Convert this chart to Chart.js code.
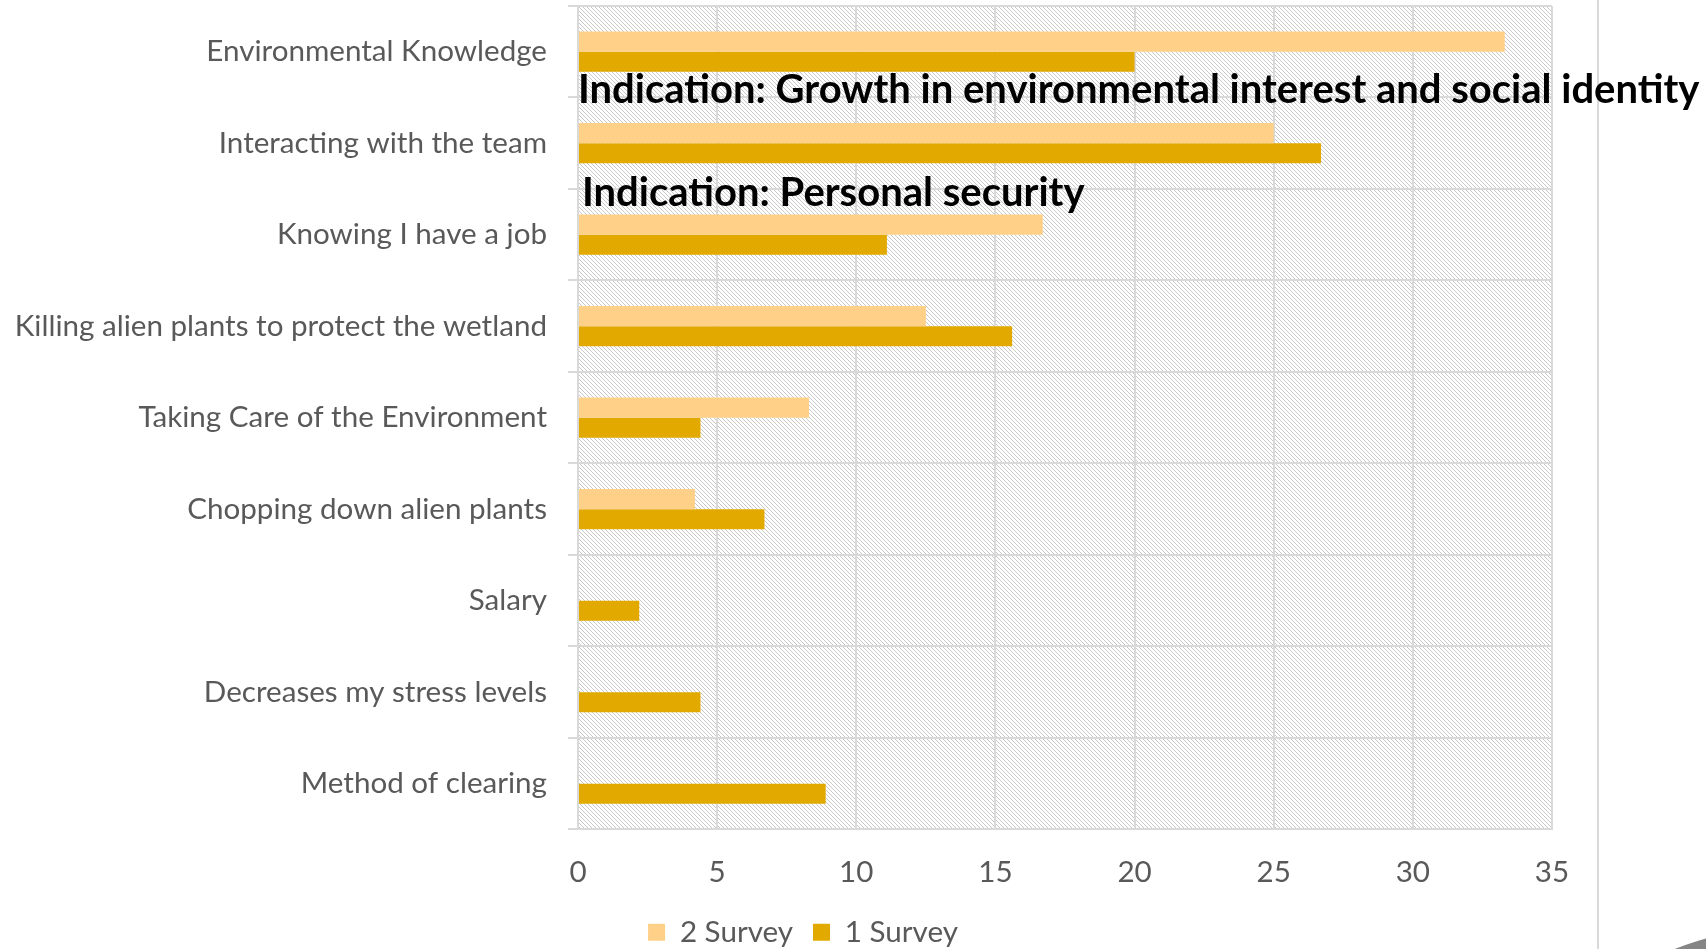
<!DOCTYPE html>
<html>
<head>
<meta charset="utf-8">
<title>Motivation by survey</title>
<script src="https://cdn.jsdelivr.net/npm/chart.js@4.4.1/dist/chart.umd.min.js"></script>
<style>
html,body{margin:0;padding:0;background:#fff;}
#wrap{position:relative;width:1706px;height:949px;overflow:hidden;}
</style>
</head>
<body>
<div id="wrap"><canvas id="surveyChart" width="1706" height="949"></canvas></div>
<script>
const categories = [
    "Environmental Knowledge",
    "Interacting with the team",
    "Knowing I have a job",
    "Killing alien plants to protect the wetland",
    "Taking Care of the Environment",
    "Chopping down alien plants",
    "Salary",
    "Decreases my stress levels",
    "Method of clearing"
];
const survey2 = [33.3, 25, 16.7, 12.5, 8.3, 4.2, 0, 0, 0];
const survey1 = [20, 26.7, 11.1, 15.6, 4.4, 6.7, 2.2, 4.4, 8.9];
const xTicks = [0, 5, 10, 15, 20, 25, 30, 35];
const notes = [
    "Indication: Growth in environmental interest and social identity",
    "Indication: Personal security"
];

const grey = "#595959";
const gridGrey = "#d9d9d9";
const frameX = 1598;

function hatchPattern(ctx){
    const c = document.createElement("canvas");
    c.width = c.height = 8;
    const g = c.getContext("2d");
    g.fillStyle = "#fff";
    g.fillRect(0, 0, 8, 8);
    g.fillStyle = "#c8c8c8";
    for(let i = 0; i < 8; i++){
        g.fillRect(i, i, 1, 1);
        g.fillRect((i + 4) % 8, i, 1, 1);
    }
    return ctx.createPattern(c, "repeat");
}

// hatched plot background, outer frame line, notes on top of the bars
const decor = {
    id: "decor",
    afterLayout(chart){
        // keep the legend centred inside the outer frame
        const lg = chart.legend;
        const dx = frameX / 2 + 4 - (lg.left + lg.right) / 2;
        lg.left += dx; lg.right += dx;
        lg.top -= 2; lg.bottom -= 2;
    },
    beforeDraw(chart){
        const {ctx, chartArea: a} = chart;
        ctx.save();
        ctx.fillStyle = hatchPattern(ctx);
        ctx.fillRect(a.left, a.top, a.right - a.left, a.bottom - a.top);
        ctx.restore();
    },
    afterDraw(chart){
        const {ctx, scales} = chart;
        ctx.save();
        ctx.strokeStyle = gridGrey;
        ctx.lineWidth = 2;
        ctx.beginPath();
        ctx.moveTo(frameX, 0);
        ctx.lineTo(frameX, chart.height);
        ctx.stroke();

        ctx.fillStyle = "#858585";
        ctx.beginPath();
        ctx.arc(1790, 1240, 313, 0, Math.PI * 2);
        ctx.fill();

        const x0 = scales.x.getPixelForValue(0);
        ctx.fillStyle = "#000";
        ctx.font = "bold 40px Lato";
        ctx.textBaseline = "alphabetic";
        ctx.textAlign = "left";
        ctx.fillText(notes[0], x0, scales.y.getPixelForValue(0.5) + 6);
        ctx.fillText(notes[1], x0 + 4, scales.y.getPixelForValue(1.5) + 17);
        ctx.restore();
    }
};

const font = {family: "Lato", size: 29.6};

new Chart(document.getElementById("surveyChart"), {
    type: "bar",
    data: {
        labels: categories,
        datasets: [
            {label: "2 Survey", data: survey2, backgroundColor: "#ffd087", borderWidth: 0},
            {label: "1 Survey", data: survey1, backgroundColor: "#e2aa00", borderWidth: 0}
        ]
    },
    options: {
        responsive: false,
        animation: false,
        indexAxis: "y",
        layout: {padding: {top: 6, right: 154, left: 0, bottom: -10}},
        datasets: {bar: {categoryPercentage: 0.44, barPercentage: 1}},
        plugins: {
            tooltip: {enabled: false},
            legend: {
                position: "bottom",
                labels: {color: grey, font: font, boxWidth: 17, boxHeight: 17, padding: 20}
            }
        },
        scales: {
            y: {
                grid: {color: gridGrey, lineWidth: 2, tickLength: 10, offset: true},
                border: {color: gridGrey, width: 2},
                ticks: {color: grey, font: font, padding: 21},
                afterFit(s){
                    s.width = 578;
                    s.paddingTop = 0;
                    s.paddingBottom = 0;
                }
            },
            x: {
                min: 0, max: 35,
                afterBuildTicks(s){ s.ticks = xTicks.map(v => ({value: v})); },
                grid: {color: gridGrey, lineWidth: 2, drawTicks: false},
                border: {color: gridGrey, width: 2},
                ticks: {color: grey, font: font, padding: 25},
                afterFit(s){ s.height = 70; }
            }
        }
    },
    plugins: [decor]
});
</script>
</body>
</html>
